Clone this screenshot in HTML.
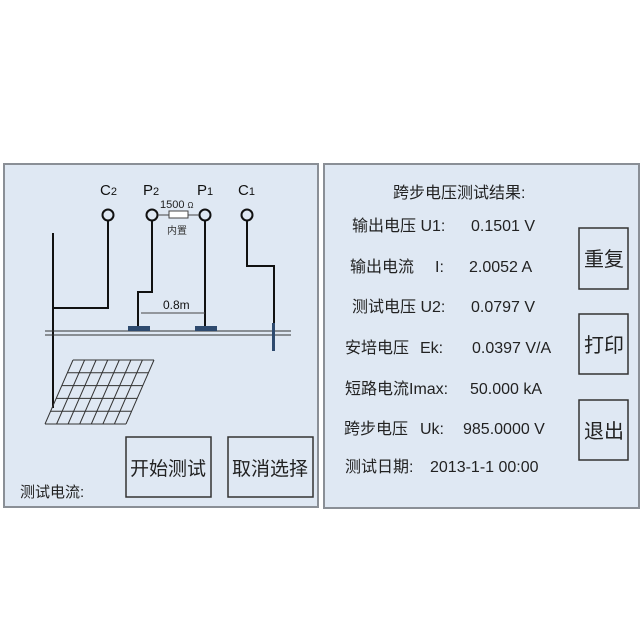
<!DOCTYPE html>
<html><head><meta charset="utf-8"><style>
body{margin:0;width:643px;height:643px;background:#fff;overflow:hidden;font-family:"Liberation Sans","Noto Sans CJK SC",sans-serif;}
svg{position:absolute;left:0;top:0}
</style></head><body>
<svg width="643" height="643" viewBox="0 0 643 643" font-family="Liberation Sans, Noto Sans CJK SC, sans-serif">
<rect x="4" y="164" width="314" height="343" fill="#dfe8f3" stroke="#8a8f96" stroke-width="2"/>
<rect x="324" y="164" width="315" height="344" fill="#dfe8f3" stroke="#8a8f96" stroke-width="2"/>
<g font-size="15" fill="#111">
<text x="100" y="195">C<tspan font-size="11">2</tspan></text>
<text x="143" y="195">P<tspan font-size="11">2</tspan></text>
<text x="197" y="195">P<tspan font-size="11">1</tspan></text>
<text x="238" y="195">C<tspan font-size="11">1</tspan></text>
</g>
<g fill="none" stroke="#111" stroke-width="2">
<circle cx="108" cy="215" r="5.5"/><circle cx="152" cy="215" r="5.5"/><circle cx="205" cy="215" r="5.5"/><circle cx="247" cy="215" r="5.5"/>
<path d="M53 233V408M53 308H108V221"/>
<path d="M152 221V292H138V327"/>
<path d="M205 221V327"/>
<path d="M247 221V266H274V325"/>
</g>
<path d="M158 215H169M188 215H199" stroke="#444" stroke-width="1"/>
<rect x="169" y="211" width="19" height="7" fill="#fff" stroke="#444"/>
<text x="160" y="208" font-size="11" fill="#222">1500 <tspan font-size="8">Ω</tspan></text>
<text x="167" y="234" font-size="10" fill="#333">内置</text>
<path d="M45 331H291M45 335H291" stroke="#333" stroke-width="1"/>
<rect x="128" y="326" width="22" height="5" fill="#2e4a6e"/>
<rect x="195" y="326" width="22" height="5" fill="#2e4a6e"/>
<rect x="272" y="323" width="3" height="28" fill="#2e4a6e"/>
<path d="M141 313H205" stroke="#444" stroke-width="1"/>
<text x="163" y="309" font-size="12" fill="#111">0.8m</text>
<g stroke="#333" stroke-width="1" fill="none">
<path d="M73 360H154M45 424H126M67.4 372.8H148.4M61.8 385.6H142.8M56.2 398.4H137.2M50.6 411.2H131.6"/>
<path d="M73 360L45 424M84.6 360L56.6 424M96.1 360L68.1 424M107.7 360L79.7 424M119.3 360L91.3 424M130.9 360L102.9 424M142.4 360L114.4 424M154 360L126 424"/>
</g>
<g fill="none" stroke="#333" stroke-width="1.5">
<rect x="126" y="437" width="85" height="60"/><rect x="228" y="437" width="85" height="60"/>
<rect x="579" y="228" width="49" height="61"/><rect x="579" y="314" width="49" height="60"/><rect x="579" y="400" width="49" height="60"/>
</g>
<g font-size="19" fill="#222">
<text x="130" y="475">开始测试</text><text x="232" y="475">取消选择</text>
</g>
<g font-size="20" fill="#222">
<text x="584" y="266">重复</text><text x="584" y="352">打印</text><text x="584" y="438">退出</text>
</g>
<text x="20" y="497" font-size="15" fill="#222">测试电流:</text>
<g font-size="16" fill="#222">
<text x="393" y="198">跨步电压测试结果:</text>
<text x="352" y="231">输出电压 U1:</text><text x="471" y="231">0.1501 V</text>
<text x="350" y="272">输出电流</text><text x="435" y="272">I:</text><text x="469" y="272">2.0052 A</text>
<text x="352" y="312">测试电压 U2:</text><text x="471" y="312">0.0797 V</text>
<text x="345" y="353">安培电压</text><text x="420" y="353">Ek:</text><text x="472" y="353">0.0397 V/A</text>
<text x="345" y="394">短路电流Imax:</text><text x="470" y="394">50.000 kA</text>
<text x="344" y="434">跨步电压</text><text x="420" y="434">Uk:</text><text x="463" y="434">985.0000 V</text>
<text x="345" y="472">测试日期:</text><text x="430" y="472">2013-1-1 00:00</text>
</g>
</svg>
</body></html>
